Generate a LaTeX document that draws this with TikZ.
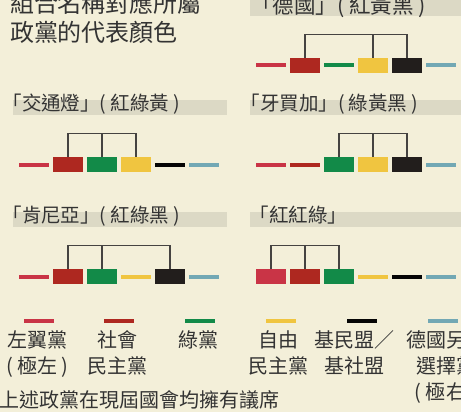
\documentclass[tikz,border=0pt]{standalone}
\usepackage{fontspec}
\setmainfont{Noto Sans CJK TC}
\definecolor{bg}{HTML}{F3EFD9}
\definecolor{bandc}{HTML}{DCD9C5}
\definecolor{textc}{HTML}{333333}
\definecolor{brkc}{HTML}{454341}
\definecolor{cpink}{HTML}{C93446}
\definecolor{cred}{HTML}{AE2820}
\definecolor{cgreen}{HTML}{128A48}
\definecolor{cyellow}{HTML}{F0C540}
\definecolor{cblack}{HTML}{221E1C}
\definecolor{cdash}{HTML}{050505}
\definecolor{cteal}{HTML}{72A8B4}
\tikzset{
  blk/.style={rectangle, minimum width=30pt, minimum height=15pt, inner sep=0pt, outer sep=0pt, draw=none},
  dsh/.style={rectangle, minimum width=30pt, minimum height=4pt, inner sep=0pt, outer sep=0pt, draw=none},
  brk/.style={draw=brkc, line width=1.3pt, line join=miter},
  bandbox/.style={fill=bandc},
  lbl/.style={text=textc, inner sep=0pt, outer sep=0pt, anchor=base west, font=\fontsize{19.5}{23}\selectfont},
  lblbig/.style={text=textc, inner sep=0pt, outer sep=0pt, anchor=base west, font=\fontsize{21.5}{26}\selectfont},
  ttl/.style={text=textc, inner sep=0pt, outer sep=0pt, anchor=base west, font=\fontsize{24}{29}\selectfont},
  leg/.style={text=textc, inner sep=0pt, outer sep=0pt, anchor=base, font=\fontsize{20}{26}\selectfont},
}
\begin{document}
\begin{tikzpicture}[x=1pt,y=-1pt]
\useasboundingbox (0,0) rectangle (461,412);
\fill[bg] (0,0) rectangle (461,412);
\clip (0,0) rectangle (461,412);

% title
\node[ttl] (t1) at (10,12.4) {組合名稱對應所屬};
\node[ttl] (t2) at (10,41.4) {政黨的代表顏色};

% bands
\fill[bandbox] (250,0) rectangle (461,15.7);
\fill[bandbox] (13,100) rectangle (227,115);
\fill[bandbox] (250,100) rectangle (461,115);
\fill[bandbox] (13,212) rectangle (227,227);
\fill[bandbox] (250,212) rectangle (461,227);

% labels
\node[lblbig] (la) at (251,13.5) {「德國」( 紅黃黑 )};
\node[lbl] (lb) at (2.5,110.5) {「交通燈」( 紅綠黃 )};
\node[lbl] (lc) at (240.5,110.5) {「牙買加」( 綠黃黑 )};
\node[lbl] (ld) at (2.5,222.5) {「肯尼亞」( 紅綠黑 )};
\node[lbl] (le) at (249.5,222.5) {「紅紅綠」};

% row A: 德國
\node[dsh, fill=cpink]  (a1) at (271,65.5) {};
\node[blk, fill=cred]   (a2) at (305,65.5) {};
\node[dsh, fill=cgreen] (a3) at (339,65.5) {};
\node[blk, fill=cyellow](a4) at (373,65.5) {};
\node[blk, fill=cblack] (a5) at (407,65.5) {};
\node[dsh, fill=cteal]  (a6) at (441,65.5) {};
\draw[brk] (a2.north) -- ++(0,-23.3) -| (a5.north);
\draw[brk] (a4.north) -- ++(0,-23.3);

% row B: 交通燈
\node[dsh, fill=cpink]  (b1) at (34,164.5) {};
\node[blk, fill=cred]   (b2) at (68,164.5) {};
\node[blk, fill=cgreen] (b3) at (102,164.5) {};
\node[blk, fill=cyellow](b4) at (136,164.5) {};
\node[dsh, fill=cdash]  (b5) at (170,164.5) {};
\node[dsh, fill=cteal]  (b6) at (204,164.5) {};
\draw[brk] (b2.north) -- ++(0,-23.3) -| (b4.north);
\draw[brk] (b3.north) -- ++(0,-23.3);

% row C: 牙買加
\node[dsh, fill=cpink]  (c1) at (271,164.5) {};
\node[dsh, fill=cred]   (c2) at (305,164.5) {};
\node[blk, fill=cgreen] (c3) at (339,164.5) {};
\node[blk, fill=cyellow](c4) at (373,164.5) {};
\node[blk, fill=cblack] (c5) at (407,164.5) {};
\node[dsh, fill=cteal]  (c6) at (441,164.5) {};
\draw[brk] (c3.north) -- ++(0,-23.3) -| (c5.north);
\draw[brk] (c4.north) -- ++(0,-23.3);

% row D: 肯尼亞
\node[dsh, fill=cpink]  (d1) at (34,276.5) {};
\node[blk, fill=cred]   (d2) at (68,276.5) {};
\node[blk, fill=cgreen] (d3) at (102,276.5) {};
\node[dsh, fill=cyellow](d4) at (136,276.5) {};
\node[blk, fill=cblack] (d5) at (170,276.5) {};
\node[dsh, fill=cteal]  (d6) at (204,276.5) {};
\draw[brk] (d2.north) -- ++(0,-23.3) -| (d5.north);
\draw[brk] (d3.north) -- ++(0,-23.3);

% row E: 紅紅綠
\node[blk, fill=cpink]  (e1) at (271,276.5) {};
\node[blk, fill=cred]   (e2) at (305,276.5) {};
\node[blk, fill=cgreen] (e3) at (339,276.5) {};
\node[dsh, fill=cyellow](e4) at (373,276.5) {};
\node[dsh, fill=cdash]  (e5) at (407,276.5) {};
\node[dsh, fill=cteal]  (e6) at (441,276.5) {};
\draw[brk] (e1.north) -- ++(0,-23.3) -| (e3.north);
\draw[brk] (e2.north) -- ++(0,-23.3);

% legend
\node[dsh, fill=cpink]  (l1) at (39,321) {};
\node[dsh, fill=cred]   (l2) at (119,321) {};
\node[dsh, fill=cgreen] (l3) at (200,321) {};
\node[dsh, fill=cyellow](l4) at (281,321) {};
\node[dsh, fill=cdash]  (l5) at (362,321) {};
\node[dsh, fill=cteal]  (l6) at (443,321) {};

\node[leg] (g1a) at (37.5,347) {左翼黨};
\node[leg] (g1b) at (37.5,373) {( 極左 )};
\node[leg] (g2a) at (117,347) {社會};
\node[leg] (g2b) at (117,373) {民主黨};
\node[leg] (g3a) at (198,347) {綠黨};
\node[leg] (g4a) at (278.5,347) {自由};
\node[leg] (g4b) at (278.5,373) {民主黨};
\node[leg] (g5a) at (354,347) {基民盟／};
\node[leg] (g5b) at (354,373) {基社盟};
\node[leg] (g6a) at (446,347) {德國另類};
\node[leg] (g6b) at (446,373) {選擇黨};
\node[leg] (g6c) at (446,399) {( 極右 )};

\node[text=textc, inner sep=0pt, anchor=base west, font=\fontsize{20}{26}\selectfont] (foot) at (-1,407.6) {上述政黨在現屆國會均擁有議席};
\end{tikzpicture}
\end{document}
